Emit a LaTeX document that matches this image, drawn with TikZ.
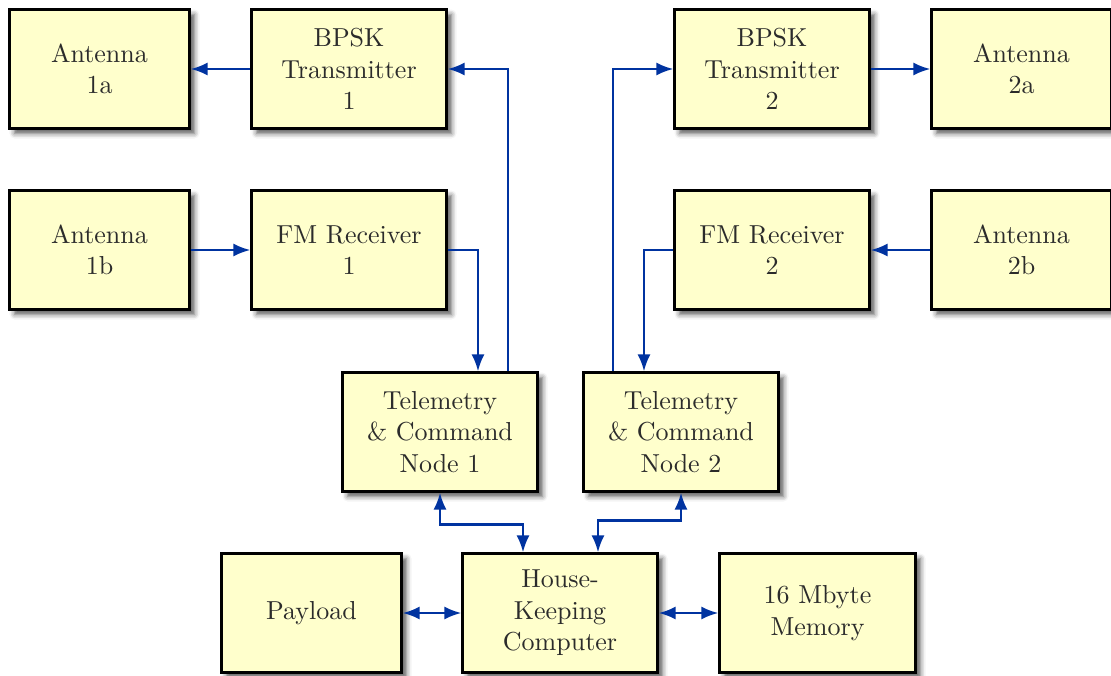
\documentclass[tikz,border=0pt]{standalone}
\usepackage{fontspec}
\setmainfont{lmroman10-regular}[Extension=.otf]
\usetikzlibrary{arrows.meta,shadows.blur}
\definecolor{boxfill}{HTML}{FFFFCC}
\definecolor{linkblue}{HTML}{0033A0}
\definecolor{textgray}{HTML}{2B2B2B}
\tikzset{
  block/.style={draw=black, line width=2.2pt, fill=boxfill, text=textgray,
    minimum height=119pt, align=center, inner sep=0pt,
    font=\fontsize{26}{31.5}\selectfont,
    blur shadow={shadow xshift=5pt, shadow yshift=-5pt,
      shadow blur radius=5pt, shadow opacity=65}},
  narrow/.style={block, minimum width=180pt},
  wide/.style={block, minimum width=195pt},
  link/.style={draw=linkblue, line width=2.4pt,
    -{Latex[length=17pt,width=13pt]}},
  dlink/.style={link, {Latex[length=17pt,width=13pt]}-{Latex[length=17pt,width=13pt]}}
}
\begin{document}
\begin{tikzpicture}[x=1pt,y=-1pt]
\useasboundingbox (0,0) rectangle (1111,675);
% upper left group
\node[narrow] (a1a) at (99.5,69)  {Antenna\\1a};
\node[wide]   (tx1) at (349,69)   {BPSK\\Transmitter\\1};
\node[narrow] (a1b) at (99.5,250) {Antenna\\1b};
\node[wide]   (rx1) at (349,250)  {FM Receiver\\1};
% upper right group
\node[wide]   (tx2) at (772,69)    {BPSK\\Transmitter\\2};
\node[narrow] (a2a) at (1021.5,69) {Antenna\\2a};
\node[wide]   (rx2) at (772,250)   {FM Receiver\\2};
\node[narrow] (a2b) at (1021.5,250){Antenna\\2b};
% command nodes
\node[wide] (tc1) at (440,432) {Telemetry\\\& Command\\Node 1};
\node[wide] (tc2) at (681,432) {Telemetry\\\& Command\\Node 2};
% bottom row
\node[narrow] (pay) at (311.5,613) {Payload};
\node[wide]   (hk)  at (560,613)   {House-\\Keeping\\Computer};
\node[wide, minimum width=196pt] (mem) at (817.5,613) {16 Mbyte\\Memory};

% radio links
\draw[link] (tx1.west) -- (a1a.east);
\draw[link] (a1b.east) -- (rx1.west);
\draw[link] (tx2.east) -- (a2a.west);
\draw[link] (a2b.west) -- (rx2.east);
% receivers down to the command nodes
\draw[link] (rx1.east) -| ([xshift=38pt]tc1.north);
\draw[link] (rx2.west) -| ([xshift=-37pt]tc2.north);
% command nodes up to the transmitters
\draw[link] ([xshift=68pt]tc1.north) |- (tx1.east);
\draw[link] ([xshift=-68pt]tc2.north) |- (tx2.west);
% command nodes to the housekeeping computer
\draw[dlink] (tc1.south) -- ++(0,32) -| ([xshift=-37pt]hk.north);
\draw[dlink] (tc2.south) -- ++(0,28) -| ([xshift=38pt]hk.north);
% bottom row links
\draw[dlink] (pay.east) -- (hk.west);
\draw[dlink] (hk.east) -- (mem.west);
\end{tikzpicture}
\end{document}
